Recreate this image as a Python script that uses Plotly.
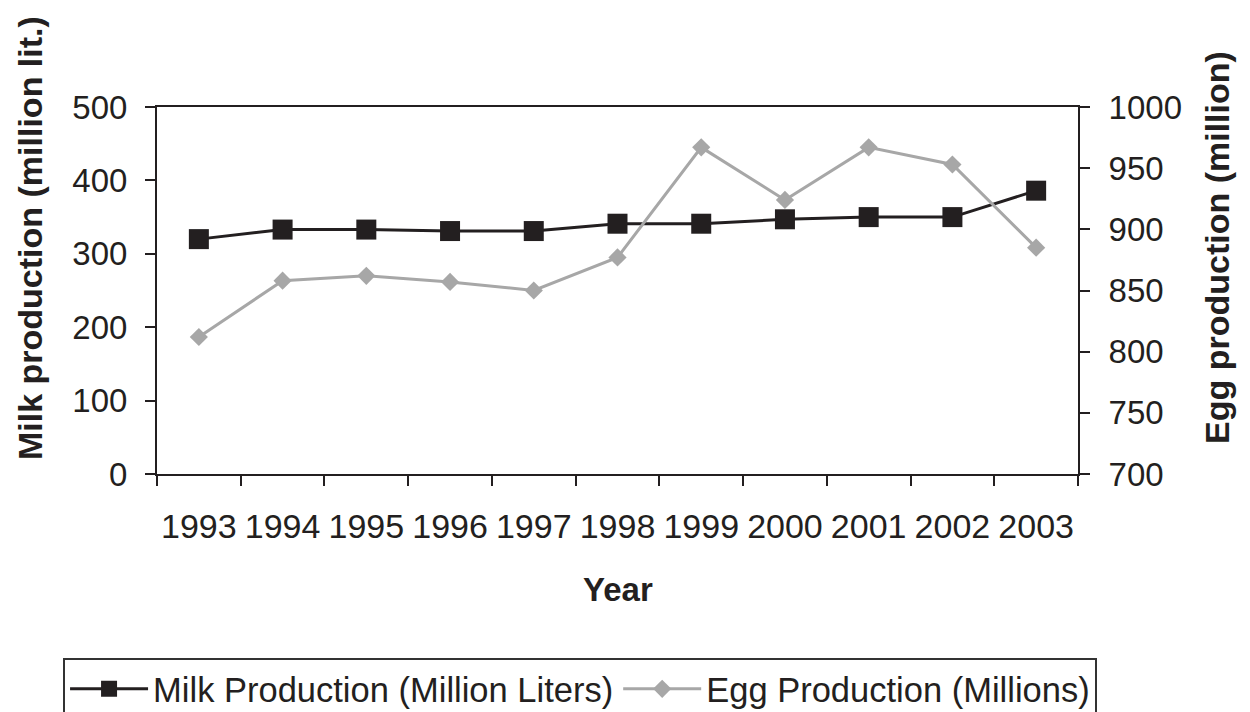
import plotly.graph_objects as go

years = ["1993", "1994", "1995", "1996", "1997", "1998", "1999", "2000", "2001", "2002", "2003"]
milk = [320, 333, 333, 331, 331, 341, 341, 347, 350, 350, 386]
eggs = [812, 858, 862, 857, 850, 877, 967, 924, 967, 953, 885]

milk_ticks = [0, 100, 200, 300, 400, 500]
egg_ticks = [700, 750, 800, 850, 900, 950, 1000]

INK = "#231f20"
GREY = "#a7a7a7"
FONT = "Liberation Sans, Arial, sans-serif"

fig = go.Figure()
fig.add_trace(go.Scatter(
    x=years, y=milk, name="Milk Production (Million Liters)",
    mode="lines+markers", line=dict(color=INK, width=3),
    marker=dict(symbol="square", size=20, color=INK, line=dict(width=0)),
    xaxis="x", yaxis="y"))
fig.add_trace(go.Scatter(
    x=years, y=eggs, name="Egg Production (Millions)",
    mode="lines+markers", line=dict(color=GREY, width=3),
    marker=dict(symbol="diamond", size=14, color=GREY, line=dict(width=0)),
    xaxis="x", yaxis="y2"))

boundaries = [i - 0.5 for i in range(len(years) + 1)]

fig.update_layout(
    width=1242, height=704,
    margin=dict(l=149, r=172, t=99, b=238, autoexpand=False),
    paper_bgcolor="white", plot_bgcolor="white",
    font=dict(family=FONT, size=34, color=INK),
    showlegend=True,
    legend=dict(orientation="h", x=-0.102, xanchor="left", y=-0.501, yanchor="top",
                bordercolor="#333333", borderwidth=2, bgcolor="white", itemwidth=78,
                font=dict(size=34.5, color=INK), tracegroupgap=0),
    xaxis=dict(type="category", range=[-0.5, len(years) - 0.5], tickson="boundaries",
               ticks="outside", ticklen=10, tickwidth=2, tickcolor=INK, tickangle=0,
               showline=True, linecolor=INK, linewidth=2, mirror=True, automargin=False,
               showgrid=False, zeroline=False, tickfont=dict(size=34, color=INK),
               ticklabelstandoff=21),
    xaxis3=dict(overlaying="x", anchor="y", type="linear", range=[-0.5, len(years) - 0.5],
                tickmode="array", tickvals=boundaries, ticks="inside", ticklen=10,
                tickwidth=2, tickcolor=INK, showticklabels=False, showline=False,
                showgrid=False, zeroline=False, automargin=False),
    yaxis=dict(range=[0, 500], tickmode="array", tickvals=milk_ticks,
               ticks="outside", ticklen=10, tickwidth=2, tickcolor=INK, automargin=False,
               showline=True, linecolor=INK, linewidth=2, showgrid=False, zeroline=False,
               tickfont=dict(size=33, color=INK), ticklabelstandoff=11),
    yaxis3=dict(overlaying="y", anchor="x", range=[0, 500], tickmode="array", tickvals=milk_ticks,
                ticks="inside", ticklen=10, tickwidth=2, tickcolor=INK, automargin=False,
                showticklabels=False, showline=False, showgrid=False, zeroline=False),
    yaxis2=dict(overlaying="y", side="right", anchor="x", range=[700, 1000], tickmode="array",
                tickvals=egg_ticks, ticks="outside", ticklen=10, tickwidth=2, tickcolor=INK,
                showline=True, linecolor=INK, linewidth=2, showgrid=False, zeroline=False,
                automargin=False, tickfont=dict(size=33, color=INK), ticklabelstandoff=12),
    yaxis4=dict(overlaying="y", side="right", anchor="x", range=[700, 1000], tickmode="array",
                tickvals=egg_ticks, ticks="inside", ticklen=10, tickwidth=2, tickcolor=INK,
                automargin=False, showticklabels=False, showline=False, showgrid=False,
                zeroline=False),
    annotations=[
        dict(text="<b>Milk production (million lit.)</b>", xref="paper", yref="paper",
             x=-0.1379, y=0.643, xanchor="center", yanchor="middle", textangle=-90,
             showarrow=False, font=dict(size=34, color=INK)),
        dict(text="<b>Egg production (million)</b>", xref="paper", yref="paper",
             x=1.151, y=0.616, xanchor="center", yanchor="middle", textangle=-90,
             showarrow=False, font=dict(size=34, color=INK)),
        dict(text="<b>Year</b>", xref="paper", yref="paper",
             x=0.5005, y=-0.316, xanchor="center", yanchor="middle",
             showarrow=False, font=dict(size=33, color=INK)),
    ],
)

fig.write_html("out.html")
